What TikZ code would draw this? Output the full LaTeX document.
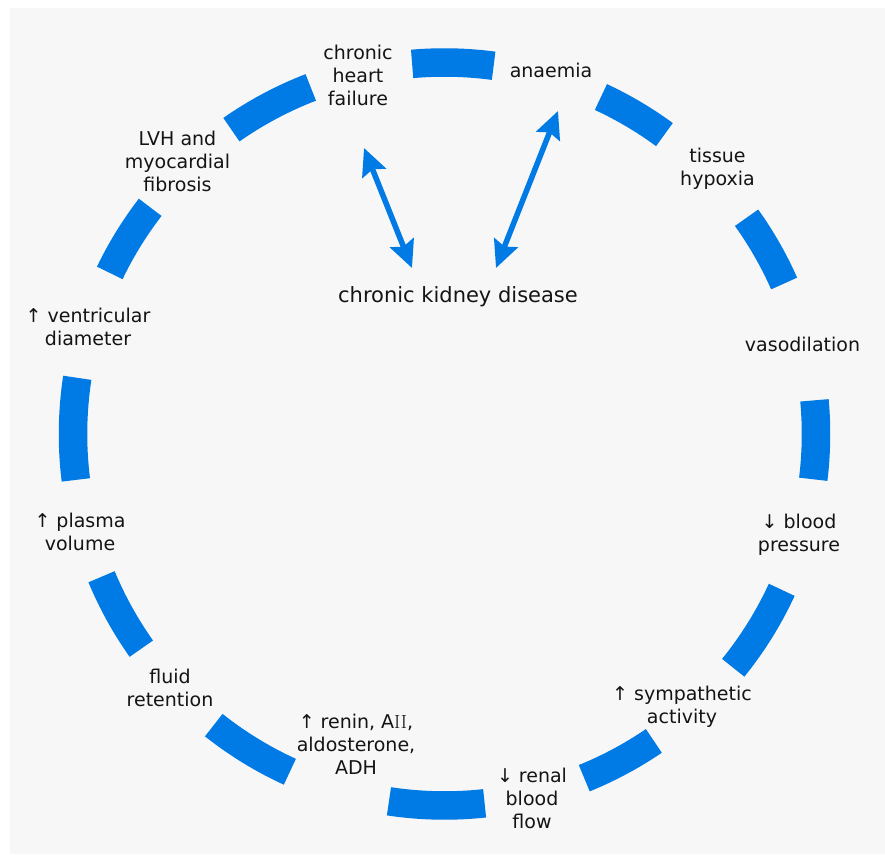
\documentclass[tikz,border=0pt]{standalone}
\usepackage{fontspec}
\newfontfamily\labfont{DejaVu Sans}
\usetikzlibrary{arrows.meta}
\definecolor{segblue}{RGB}{0,122,228}
\definecolor{bggrey}{RGB}{247,247,247}
\definecolor{txtcol}{RGB}{20,20,20}
\begin{document}
\begin{tikzpicture}[x=1pt,y=1pt,
  lab/.style={font=\labfont\fontsize{19}{23}\selectfont, text=txtcol, align=center, inner sep=0pt},
  seg/.style={draw=segblue, line width=28.5pt},
  dbl/.style={draw=segblue, line width=5.5pt,
    {Stealth[length=27pt,width=25pt,inset=4pt]}-{Stealth[length=27pt,width=25pt,inset=4pt]}}]
\useasboundingbox (0,0) rectangle (885,854);
\fill[bggrey] (10,0) rectangle (885,846);
\coordinate (C) at (444.5,420);
\foreach \a/\b in {82.4/95.0, 53.7/65.1, 23.9/35.6, -7.0/5.2, -39.0/-24.8, -67.9/-55.7,
                   -98.6/-83.8, 231.6/245.4, 202.6/215.3, 171.3/187.1, 142.4/154.3, 111.1/125.0}
  \draw[seg] (C) ++(\a:371.5) arc[start angle=\a, end angle=\b, radius=371.5];
\node[lab] (chf) at (358,779) {chronic\\heart\\failure};
\node[lab] (anae) at (551,784) {anaemia};
\node[lab] (hyp) at (717.5,685) {tissue\\hypoxia};
\node[lab] (vaso) at (802.5,510) {vasodilation};
\node[lab] (bp) at (799,319) {↓ blood\\pressure};
\node[lab] (symp) at (682,147) {↑ sympathetic\\activity};
\node[lab] (renal) at (532,56) {↓ renal\\blood\\flow};
\node[lab] (renin) at (356,110) {↑ renin, A{\rmfamily II},\\aldosterone,\\ADH};
\node[lab] (fluid) at (170,166) {fluid\\retention};
\node[lab] (plasma) at (80,322) {↑ plasma\\volume};
\node[lab] (vent) at (88,527) {↑ ventricular\\diameter};
\node[lab] (lvh) at (177.5,693) {LVH and\\myocardial\\fibrosis};
\node[lab, font=\labfont\fontsize{21}{25}\selectfont] (ckd) at (458,557) {chronic kidney disease};
\coordinate (chfA) at (364,706);
\coordinate (ckdL) at (412,586);
\coordinate (anaeA) at (558,743);
\coordinate (ckdR) at (496,586);
\draw[dbl] (chfA) -- (ckdL);
\draw[dbl] (anaeA) -- (ckdR);
\end{tikzpicture}
\end{document}
